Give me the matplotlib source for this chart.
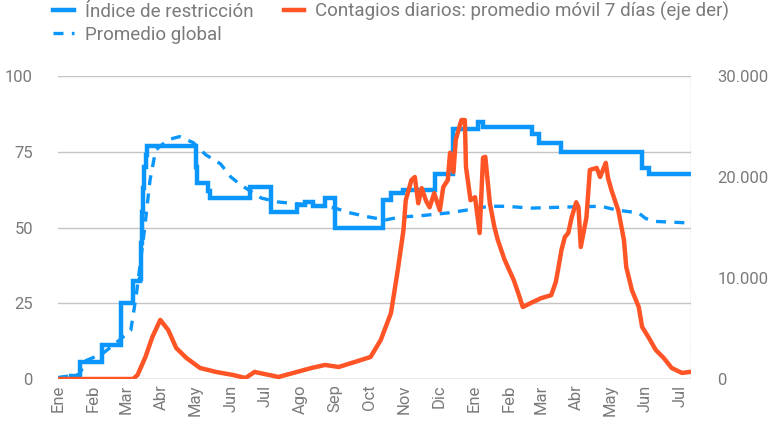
import matplotlib.pyplot as plt
import matplotlib.ticker as mticker
import numpy as np
import pandas as pd

# Índice de restricción (escalones)
restr_dates = ['2020-01-01', '2020-01-12', '2020-01-20', '2020-02-09', '2020-02-25',
               '2020-03-07', '2020-03-13', '2020-03-14', '2020-03-15', '2020-03-16',
               '2020-03-17', '2020-03-18', '2020-03-19', '2020-05-01', '2020-05-02',
               '2020-05-12', '2020-05-14', '2020-06-18', '2020-07-06', '2020-07-29',
               '2020-08-05', '2020-08-12', '2020-08-23', '2020-09-01', '2020-10-13',
               '2020-10-20', '2020-10-31', '2020-11-28', '2020-12-14', '2021-01-05',
               '2021-01-09', '2021-02-21', '2021-02-27', '2021-03-19', '2021-05-29',
               '2021-06-04', '2021-07-10']
restr_vals = [0, 1, 5.6, 11.1, 25,
              32.4, 33, 45, 55, 63,
              70, 74, 77, 70, 64.7,
              62, 59.7, 63.4, 55, 57.4,
              58.5, 57, 59.7, 49.8, 59,
              61.4, 62.4, 67.7, 82.5, 84.8,
              83.2, 81, 77.8, 75, 69.6,
              67.7, 67.7]

# Promedio global
glob_dates = ['2020-01-01', '2020-01-20', '2020-01-25', '2020-02-09', '2020-02-21',
              '2020-03-05', '2020-03-10', '2020-03-17', '2020-03-22', '2020-03-27',
              '2020-04-07', '2020-04-17', '2020-04-29', '2020-05-10', '2020-05-23',
              '2020-06-01', '2020-06-10', '2020-06-28', '2020-07-13', '2020-08-11',
              '2020-09-01', '2020-09-12', '2020-09-30', '2020-10-15', '2020-10-29',
              '2020-11-13', '2020-12-09', '2020-12-30', '2021-01-14', '2021-01-29',
              '2021-02-21', '2021-03-28', '2021-04-23', '2021-05-06', '2021-05-26',
              '2021-06-01', '2021-06-10', '2021-07-10']
glob_vals = [0.5, 1.5, 6, 8.3, 11.9,
             16, 28, 49, 65.7, 75.6,
             79, 80, 78, 74, 71,
             66.7, 64, 59.7, 58.4, 57.4,
             56.4, 55, 53.5, 52.5, 53.5,
             53.8, 54.8, 56, 57, 57,
             56.4, 56.8, 57, 55.8, 54.8,
             53, 52, 51.5]

# Contagios diarios: promedio móvil 7 días
cases_dates = ['2020-01-01', '2020-03-07', '2020-03-11', '2020-03-18', '2020-03-24',
               '2020-03-31', '2020-04-07', '2020-04-14', '2020-04-23', '2020-05-05',
               '2020-05-19', '2020-06-03', '2020-06-14', '2020-06-22', '2020-07-13',
               '2020-08-11', '2020-08-23', '2020-09-04', '2020-09-18', '2020-10-02',
               '2020-10-11', '2020-10-20', '2020-10-26', '2020-10-31', '2020-11-02',
               '2020-11-07', '2020-11-10', '2020-11-13', '2020-11-16', '2020-11-20',
               '2020-11-23', '2020-11-27', '2020-12-02', '2020-12-05', '2020-12-09',
               '2020-12-11', '2020-12-14', '2020-12-16', '2020-12-21', '2020-12-24',
               '2020-12-25', '2020-12-29', '2021-01-02', '2021-01-06', '2021-01-09',
               '2021-01-11', '2021-01-15', '2021-01-19', '2021-01-22', '2021-01-28',
               '2021-02-05', '2021-02-09', '2021-02-13', '2021-02-20', '2021-03-01',
               '2021-03-10', '2021-03-14', '2021-03-16', '2021-03-19', '2021-03-22',
               '2021-03-25', '2021-03-28', '2021-04-01', '2021-04-03', '2021-04-05',
               '2021-04-10', '2021-04-13', '2021-04-19', '2021-04-22', '2021-04-27',
               '2021-04-29', '2021-05-02', '2021-05-08', '2021-05-13', '2021-05-15',
               '2021-05-20', '2021-05-26', '2021-05-29', '2021-06-04', '2021-06-10',
               '2021-06-17', '2021-06-24', '2021-07-03', '2021-07-10']
cases_vals = [0, 0, 400, 2200, 4150,
              5850, 4850, 3070, 2080, 1090,
              700, 400, 100, 700, 200,
              1090, 1390, 1190, 1680, 2180,
              3860, 6530, 10800, 14750, 17700,
              19700, 20000, 17400, 18900, 17600,
              17000, 18400, 16700, 19000, 19700,
              22400, 20500, 23700, 25640, 25640,
              21000, 17700, 18000, 14450, 21900,
              22000, 17400, 15050, 13760, 11800,
              9800, 8500, 7130, 7520, 8000,
              8300, 9600, 10800, 12770, 14060,
              14450, 16000, 17500, 17000, 13070,
              16000, 20700, 20900, 20000, 21400,
              19900, 18700, 16700, 13760, 11100,
              8800, 7130, 5150, 4060, 2870,
              2080, 1090, 600, 700]

month_labels = ['Ene', 'Feb', 'Mar', 'Abr', 'May', 'Jun', 'Jul', 'Ago', 'Sep', 'Oct',
                'Nov', 'Dic', 'Ene', 'Feb', 'Mar', 'Abr', 'May', 'Jun', 'Jul']

blue = '#0a96fa'
orange = '#ff5526'
grey_txt = '#7a7a7a'

plt.rcParams['font.family'] = ['Roboto', 'DejaVu Sans']

t0 = pd.Timestamp('2020-01-01')
def days(ds):
    return (pd.to_datetime(ds) - t0).days.values

fig = plt.figure(figsize=(7.74, 4.24), dpi=100)
ax = fig.add_axes([58 / 774, 1 - 379 / 424, (691 - 58) / 774, (379 - 76) / 424])
ax2 = ax.twinx()

ax.plot(days(restr_dates), restr_vals, color=blue, lw=3.2, drawstyle='steps-post',
        label='Índice de restricción', solid_joinstyle='miter')
ax.plot(days(glob_dates), glob_vals, color=blue, lw=2.4, ls=(0, (3, 2.5)),
        label='Promedio global')
ax2.plot(days(cases_dates), cases_vals, color=orange, lw=3.2,
         label='Contagios diarios: promedio móvil 7 días (eje der)')

ax.set_xlim(0, 557)
ax.set_ylim(0, 100)
ax2.set_ylim(0, 30000)
ax.set_yticks([0, 25, 50, 75, 100])
ax2.set_yticks([0, 10000, 20000, 30000])
ax2.yaxis.set_major_formatter(mticker.FuncFormatter(lambda v, p: f'{int(v):,}'.replace(',', '.')))

month_starts = pd.date_range('2020-01-01', '2021-07-01', freq='MS')
ax.set_xticks((month_starts - t0).days.values)
ax.set_xticklabels(month_labels, rotation=90)

ax.grid(axis='y', color='#c4c4c4', lw=1)
ax.set_axisbelow(True)
for a in (ax, ax2):
    for s in ('top', 'left', 'bottom', 'right'):
        a.spines[s].set_visible(False)
ax.axhline(0, color='#9a9a9a', lw=1, ls=(0, (1, 1)), zorder=1)
ax.axvline(557, color='#9a9a9a', lw=1, ls=(0, (1, 1)), zorder=1)

ax.tick_params(axis='y', length=0, pad=18, labelsize=12, labelcolor=grey_txt)
ax2.tick_params(axis='y', length=0, pad=19, labelsize=12, labelcolor=grey_txt)
ax.tick_params(axis='x', length=0, pad=4, labelsize=12, labelcolor=grey_txt)

h1, l1 = ax.get_legend_handles_labels()
h2, l2 = ax2.get_legend_handles_labels()
fig.legend(h1 + h2, l1 + l2, ncol=2, loc='upper left', bbox_to_anchor=(53 / 774, 1 - 2 / 424),
           frameon=False, fontsize=13.5, labelcolor=grey_txt, handlelength=1.1,
           handletextpad=0.6, columnspacing=1.6, labelspacing=0.25,
           borderpad=0, borderaxespad=0)

fig.savefig('out.png', dpi=100)
